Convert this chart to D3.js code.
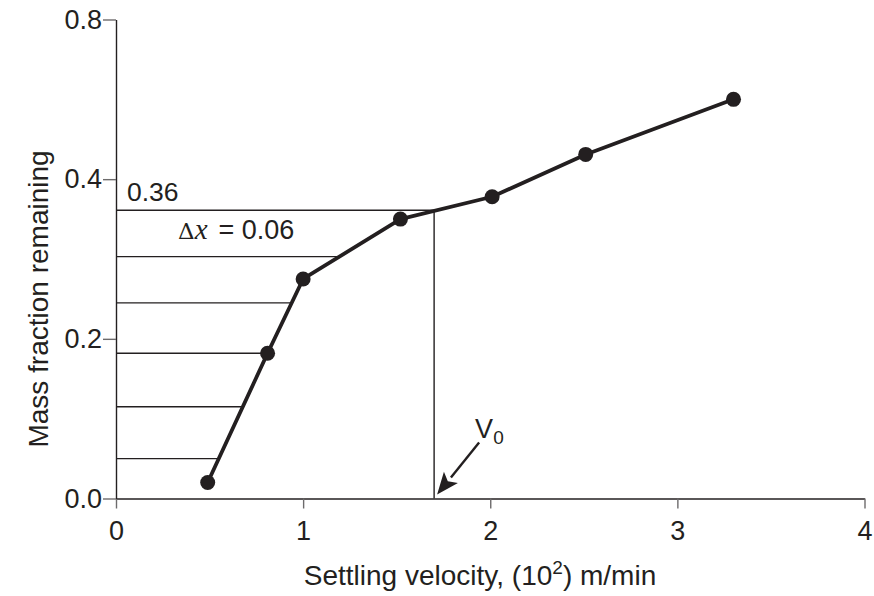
<!DOCTYPE html>
<html>
<head>
<meta charset="utf-8">
<script src="https://cdn.jsdelivr.net/npm/d3@7"></script>
<style>
  html, body { margin: 0; padding: 0; background: #ffffff; }
  svg { display: block; }
  text { font-family: "Liberation Sans", Arial, Helvetica, sans-serif; fill: #231f20; }
</style>
</head>
<body>
<svg id="chart" width="874" height="596"></svg>
<script>
// Settling test: mass fraction remaining vs settling velocity
const velocity     = [0.49, 0.81, 1.0, 1.52, 2.01, 2.51, 3.3];
const massFraction = [0.02, 0.182, 0.275, 0.35, 0.378, 0.431, 0.50];

// Horizontal fraction levels (Δx steps below 0.36)
const fractionLevels = [0.361, 0.303, 0.245, 0.182, 0.115, 0.05];
const overflowVelocity = 1.7;   // V0
const topFractionLabel = "0.36";
const deltaLabel = "= 0.06";

const xTicks = [0, 1, 2, 3, 4];
const yTicks = [0, 0.2, 0.4, 0.6];
const yTickLabels = ["0.0", "0.2", "0.4", "0.8"];

const ink = "#231f20";
const svg = d3.select("#chart");

const x = d3.scaleLinear().domain([0, 4]).range([116, 864.5]);
const y = d3.scaleLinear().domain([0, 0.6]).range([498.5, 19.5]);

// Axes
const xAxis = svg.append("g")
  .attr("transform", `translate(0,${y(0)})`)
  .call(d3.axisBottom(x).tickValues(xTicks).tickFormat(d3.format("d")).tickSize(10).tickPadding(12).tickSizeOuter(0));
const yAxis = svg.append("g")
  .attr("transform", `translate(${x(0)},0)`)
  .call(d3.axisLeft(y).tickValues(yTicks).tickFormat((d, i) => yTickLabels[i]).tickSize(13).tickPadding(1).tickSizeOuter(0));

[xAxis, yAxis].forEach(g => {
  g.select(".domain").attr("stroke", ink).attr("stroke-width", 1.4);
  g.selectAll(".tick line").attr("stroke", "#6d6b6c").attr("stroke-width", 1.4);
  g.selectAll(".tick text").attr("fill", ink).style("font-size", "27px")
    .style("font-family", "'Liberation Sans', Arial, sans-serif");
});

// Find velocity on the curve for a given fraction (piecewise linear)
function velocityAt(f) {
  for (let i = 0; i < velocity.length - 1; i++) {
    const f0 = massFraction[i], f1 = massFraction[i + 1];
    if (f >= Math.min(f0, f1) && f <= Math.max(f0, f1)) {
      return velocity[i] + (velocity[i + 1] - velocity[i]) * (f - f0) / (f1 - f0);
    }
  }
  return velocity[0];
}

// Horizontal level lines from the axis to the curve
svg.append("g").selectAll("line")
  .data(fractionLevels)
  .join("line")
  .attr("x1", x(0))
  .attr("x2", (d, i) => i === 0 ? x(overflowVelocity) : x(velocityAt(d)))
  .attr("y1", d => y(d))
  .attr("y2", d => y(d))
  .attr("stroke", ink)
  .attr("stroke-width", 1.4);

// Vertical line at V0
svg.append("line")
  .attr("x1", x(overflowVelocity)).attr("x2", x(overflowVelocity))
  .attr("y1", y(0)).attr("y2", y(fractionLevels[0]))
  .attr("stroke", ink).attr("stroke-width", 1.4);

// Curve
const pts = velocity.map((v, i) => [v, massFraction[i]]);
svg.append("path")
  .datum(pts)
  .attr("fill", "none")
  .attr("stroke", ink)
  .attr("stroke-width", 3.8)
  .attr("stroke-linejoin", "round")
  .attr("d", d3.line().x(d => x(d[0])).y(d => y(d[1])));

svg.append("g").selectAll("circle")
  .data(pts)
  .join("circle")
  .attr("cx", d => x(d[0]))
  .attr("cy", d => y(d[1]))
  .attr("r", 7.5)
  .attr("fill", ink);

// Annotations
svg.append("text")
  .attr("x", x(0) + 11).attr("y", y(fractionLevels[0]) - 9)
  .style("font-size", "26.5px")
  .text(topFractionLabel);

const dx = svg.append("text")
  .attr("x", x(0) + 62).attr("y", y(fractionLevels[0]) + 29)
  .style("font-size", "27px");
dx.append("tspan").style("font-family", "'DejaVu Serif', 'Liberation Serif', serif").style("font-size", "23px").text("Δ");
dx.append("tspan").style("font-family", "'Liberation Serif', 'Times New Roman', serif").style("font-style", "italic").style("font-size", "29px").text("x");
dx.append("tspan").attr("dx", 11).text(deltaLabel);

// V0 arrow
const tipX = x(overflowVelocity) + 3, tipY = y(0) - 4;
const tailX = tipX + 42, tailY = tipY - 52;
const ang = Math.atan2(tipY - tailY, tipX - tailX);
const headLen = 22, headW = 9;
const baseX = tipX - headLen * Math.cos(ang), baseY = tipY - headLen * Math.sin(ang);
svg.append("line")
  .attr("x1", tailX).attr("y1", tailY).attr("x2", baseX).attr("y2", baseY)
  .attr("stroke", ink).attr("stroke-width", 2.4);
svg.append("path")
  .attr("d", d3.line()([
    [tipX, tipY],
    [baseX + headW * Math.sin(ang), baseY - headW * Math.cos(ang)],
    [baseX + 5 * Math.cos(ang), baseY + 5 * Math.sin(ang)],
    [baseX - headW * Math.sin(ang), baseY + headW * Math.cos(ang)]
  ]) + "Z")
  .attr("fill", ink);

const v0 = svg.append("text")
  .attr("x", tailX - 4).attr("y", tailY - 5)
  .style("font-size", "27px");
v0.append("tspan").text("V");
v0.append("tspan").attr("dy", 6).style("font-size", "19px").text("0");

// Axis titles
const xt = svg.append("text")
  .attr("x", 480).attr("y", 585)
  .attr("text-anchor", "middle")
  .style("font-size", "28px");
xt.append("tspan").text("Settling velocity, (10");
xt.append("tspan").attr("dy", -11).style("font-size", "19px").text("2");
xt.append("tspan").attr("dy", 11).text(") m/min");

svg.append("text")
  .attr("transform", "translate(48,299) rotate(-90)")
  .attr("text-anchor", "middle")
  .style("font-size", "28px")
  .text("Mass fraction remaining");
</script>
</body>
</html>
